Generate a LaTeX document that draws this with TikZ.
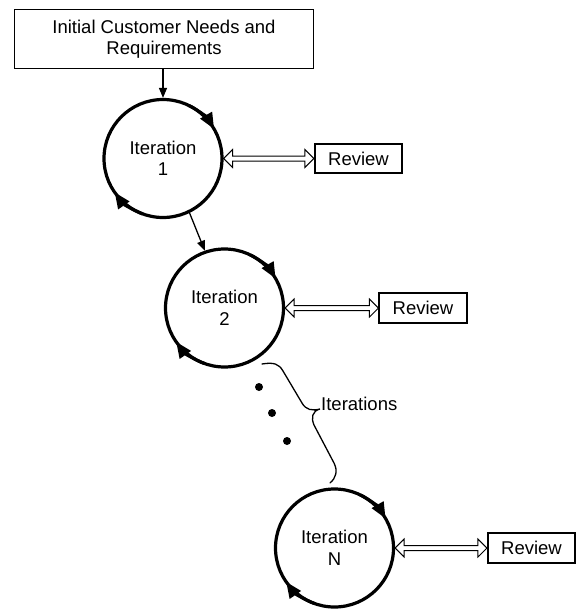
\documentclass[tikz,border=0pt]{standalone}
\usepackage{fontspec}
\setmainfont{Liberation Sans}
\usetikzlibrary{arrows.meta,calc}
\tikzset{
  every node/.style={font=\fontsize{18.5}{21.5}\selectfont},
  topbox/.style={draw, line width=1pt, minimum width=299pt, minimum height=59pt, align=center, inner sep=0pt},
  iter/.style={draw, circle, line width=3.2pt, minimum size=118pt, align=center, inner sep=0pt},
  review/.style={draw, line width=1.6pt, minimum width=87.5pt, minimum height=29.5pt, inner sep=0pt},
  conn/.style={line width=1.3pt, -{Triangle[length=10pt,width=8pt]}},
  circarr/.style={line width=3.2pt, -{Triangle[length=16pt,width=13pt]}},
  dblarr/.style={line width=1pt, line join=miter},
  bracestyle/.style={line width=1.3pt, line cap=round},
  dotstyle/.style={circle, fill=black, inner sep=0pt, minimum size=8pt}
}
\newcommand\dblarrow[2]{%
  \draw[dblarr] (#1.east) -- ([xshift=9pt,yshift=9pt]#1.east) -- ([xshift=9pt,yshift=2.5pt]#1.east)
   -- ([xshift=-9pt,yshift=2.5pt]#2.west) -- ([xshift=-9pt,yshift=9pt]#2.west) -- (#2.west)
   -- ([xshift=-9pt,yshift=-9pt]#2.west) -- ([xshift=-9pt,yshift=-2.5pt]#2.west)
   -- ([xshift=9pt,yshift=-2.5pt]#1.east) -- ([xshift=9pt,yshift=-9pt]#1.east) -- cycle;}
\newcommand\circarrows[1]{%
  \draw[circarr] ([shift={(64:59)}]#1.center) arc[start angle=64, end angle=30, radius=59];
  \draw[circarr] ([shift={(250:59)}]#1.center) arc[start angle=250, end angle=215, radius=59];}
\begin{document}
\begin{tikzpicture}[x=1pt,y=1pt]
\useasboundingbox (0,0) rectangle (577,-610);
\node[topbox] (top) at (164,-39) {Initial Customer Needs and\\Requirements};
\node[iter] (c1) at (163,-158.5) {Iteration\\1};
\node[iter] (c2) at (224.5,-308) {Iteration\\2};
\node[iter] (cN) at (334.5,-548) {Iteration\\N};
\node[review] (r1) at (358.5,-158.5) {Review};
\node[review] (r2) at (423,-308) {Review};
\node[review] (rN) at (531.5,-548) {Review};
\circarrows{c1}
\circarrows{c2}
\circarrows{cN}
\draw[conn] (c1.north |- top.south) -- (c1.north);
\draw[conn] (c1.-64) -- (c2.109);
\dblarrow{c1}{r1}
\dblarrow{c2}{r2}
\dblarrow{cN}{rN}
\node[dotstyle] (d1) at (259,-387) {};
\node[dotstyle] (d2) at (272,-413) {};
\node[dotstyle] (d3) at (287,-441) {};
\draw[bracestyle] (262,-364) .. controls (274,-362) and (279,-364) .. (283,-371) -- (302,-403)
  .. controls (306,-410) and (312,-411) .. (320,-409)
  .. controls (312,-411) and (311,-418) .. (314,-425) -- (334,-463)
  .. controls (338,-471) and (336,-478) .. (330,-483);
\node[anchor=base west, inner sep=0pt] (lbl) at (321,-410) {Iterations};
\end{tikzpicture}
\end{document}
